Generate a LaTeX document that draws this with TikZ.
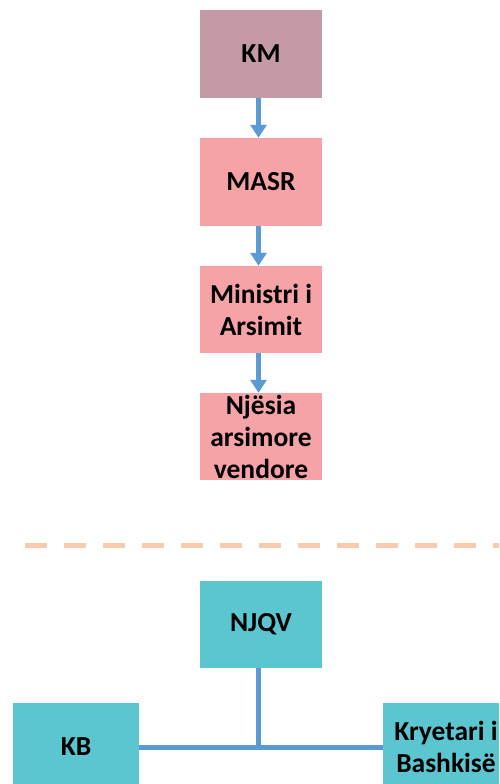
\documentclass[tikz,border=0pt]{standalone}
\usepackage{fontspec}
\setmainfont{Carlito}
\usetikzlibrary{arrows.meta}
\definecolor{kmcol}{RGB}{196,154,164}
\definecolor{pinkcol}{RGB}{245,163,166}
\definecolor{cyancol}{RGB}{91,197,208}
\definecolor{bluecol}{RGB}{91,155,213}
\definecolor{dashcol}{RGB}{248,203,173}
\tikzset{
  orgbox/.style={rectangle, minimum width=122pt, minimum height=88pt, inner sep=0pt,
    align=center, font=\fontsize{27.5}{32}\selectfont\bfseries, text=black},
  flowarrow/.style={draw=bluecol, line width=5pt, -{Triangle[width=16pt,length=13pt]}},
  linkline/.style={draw=bluecol, line width=5pt},
  sepline/.style={draw=dashcol, line width=5pt, dash pattern=on 22pt off 17pt}
}
\begin{document}
\begin{tikzpicture}[x=1pt,y=-1pt]
\useasboundingbox (0,0) rectangle (499,784);
\clip (0,0) rectangle (499,784);
\node[orgbox, fill=kmcol] (km) at (261,54) {KM};
\node[orgbox, fill=pinkcol] (masr) at (261,182) {MASR};
\node[orgbox, fill=pinkcol, minimum height=87pt] (min) at (261,309.5) {Ministri i\\Arsimit};
\node[orgbox, fill=pinkcol, minimum height=87pt] (nje) at (261,436.5) {Njësia\\arsimore\\vendore};
\draw[flowarrow] ([xshift=-2.5pt]km.south) -- ([xshift=-2.5pt]masr.north);
\draw[flowarrow] ([xshift=-2.5pt]masr.south) -- ([xshift=-2.5pt]min.north);
\draw[flowarrow] ([xshift=-2.5pt]min.south) -- ([xshift=-2.5pt]nje.north);
\coordinate (dl) at (25,545.5);
\coordinate (dr) at (505,545.5);
\draw[sepline] (dl) -- (dr);
\node[orgbox, fill=cyancol, minimum height=87pt] (njqv) at (261,624.5) {NJQV};
\node[orgbox, fill=cyancol, minimum width=126pt] (kb) at (76,747) {KB};
\node[orgbox, fill=cyancol, minimum width=126pt] (kry) at (446,747) {Kryetari i\\Bashkisë};
\draw[linkline] (kb.east) -- (kry.west);
\draw[linkline] ([xshift=-3pt]njqv.south) -- ([xshift=-3pt]njqv.south |- kb.east);
\end{tikzpicture}
\end{document}
